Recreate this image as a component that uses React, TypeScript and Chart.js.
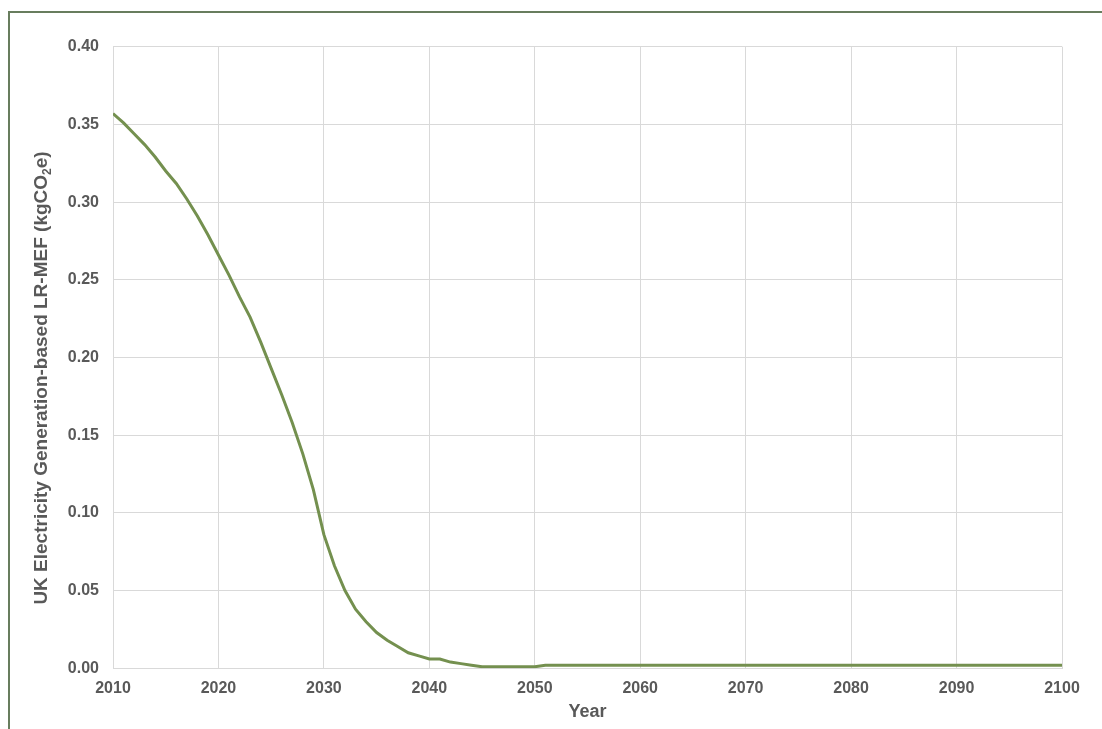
import React, { useEffect, useRef } from "react";
import { Chart, registerables } from "chart.js";

Chart.register(...registerables);

const years: number[] = [
  2010, 2011, 2012, 2013, 2014, 2015, 2016, 2017, 2018, 2019,
  2020, 2021, 2022, 2023, 2024, 2025, 2026, 2027, 2028, 2029,
  2030, 2031, 2032, 2033, 2034, 2035, 2036, 2037, 2038, 2039,
  2040, 2041, 2042, 2043, 2044, 2045, 2046, 2047, 2048, 2049,
  2050, 2051, 2052, 2053, 2054, 2055, 2056, 2057, 2058, 2059,
  2060, 2061, 2062, 2063, 2064, 2065, 2066, 2067, 2068, 2069,
  2070, 2071, 2072, 2073, 2074, 2075, 2076, 2077, 2078, 2079,
  2080, 2081, 2082, 2083, 2084, 2085, 2086, 2087, 2088, 2089,
  2090, 2091, 2092, 2093, 2094, 2095, 2096, 2097, 2098, 2099,
  2100,
];

const lrMef: number[] = [
  0.357, 0.351, 0.344, 0.337, 0.329, 0.320, 0.312, 0.302, 0.291, 0.279,
  0.266, 0.253, 0.239, 0.226, 0.210, 0.193, 0.176, 0.158, 0.138, 0.115,
  0.086, 0.066, 0.050, 0.038, 0.030, 0.023, 0.018, 0.014, 0.010, 0.008,
  0.006, 0.006, 0.004, 0.003, 0.002, 0.001, 0.001, 0.001, 0.001, 0.001,
  0.001, 0.002, 0.002, 0.002, 0.002, 0.002, 0.002, 0.002, 0.002, 0.002,
  0.002, 0.002, 0.002, 0.002, 0.002, 0.002, 0.002, 0.002, 0.002, 0.002,
  0.002, 0.002, 0.002, 0.002, 0.002, 0.002, 0.002, 0.002, 0.002, 0.002,
  0.002, 0.002, 0.002, 0.002, 0.002, 0.002, 0.002, 0.002, 0.002, 0.002,
  0.002, 0.002, 0.002, 0.002, 0.002, 0.002, 0.002, 0.002, 0.002, 0.002,
  0.002,
];

const xTitle = "Year";
// y title pieces: main text, subscript, closing text
const yTitleParts: [string, string, string] = [
  "UK Electricity Generation-based LR-MEF (kgCO",
  "2",
  "e)",
];

const FONT = "'Liberation Sans', Arial, Helvetica, sans-serif";
const TEXT = "#595959";
const GRID = "#d9d9d9";

const yTitlePlugin = {
  id: "yTitleSub",
  afterDraw(chart: any) {
    const ctx = chart.ctx as CanvasRenderingContext2D;
    const main = `bold 19px ${FONT}`;
    const sub = `bold 12px ${FONT}`;
    ctx.save();
    ctx.font = main;
    const w1 = ctx.measureText(yTitleParts[0]).width;
    const w3 = ctx.measureText(yTitleParts[2]).width;
    ctx.font = sub;
    const w2 = ctx.measureText(yTitleParts[1]).width;
    const total = w1 + w2 + w3;
    const cx = 40;
    const cy = 378;
    ctx.translate(cx, cy);
    ctx.rotate(-Math.PI / 2);
    ctx.fillStyle = TEXT;
    ctx.textBaseline = "alphabetic";
    ctx.textAlign = "left";
    let x = -total / 2;
    const base = 7;
    ctx.font = main;
    ctx.fillText(yTitleParts[0], x, base);
    x += w1;
    ctx.font = sub;
    ctx.fillText(yTitleParts[1], x, base + 4);
    x += w2;
    ctx.font = main;
    ctx.fillText(yTitleParts[2], x, base);
    ctx.restore();
  },
};

export default function App() {
  const ref = useRef<HTMLCanvasElement | null>(null);

  useEffect(() => {
    if (!ref.current) return;
    const chart = new Chart(ref.current, {
      type: "line",
      data: {
        datasets: [
          {
            label: "LR-MEF",
            data: years.map((y, i) => ({ x: y, y: lrMef[i] })),
            borderColor: "#74904f",
            backgroundColor: "#74904f",
            borderWidth: 3,
            pointRadius: 0,
            tension: 0,
            fill: false,
          },
        ],
      },
      options: {
        responsive: false,
        animation: false,
        devicePixelRatio: 1,
        layout: { padding: { left: 0, top: 46.7, right: 40, bottom: 0 } },
        plugins: { legend: { display: false }, tooltip: { enabled: false } },
        scales: {
          x: {
            type: "linear",
            min: 2010,
            max: 2100,
            afterFit: (s: any) => {
              s.height = 60.7;
            },
            ticks: {
              stepSize: 10,
              padding: 11,
              color: TEXT,
              font: { family: FONT, size: 16, weight: "bold" },
              callback: (v: any) => String(v),
              maxRotation: 0,
            },
            grid: { color: GRID, lineWidth: 1, drawTicks: false },
            border: { color: GRID, width: 1 },
            title: {
              display: true,
              text: xTitle,
              color: TEXT,
              font: { family: FONT, size: 18, weight: "bold" },
              padding: { top: 0, bottom: 6.5 },
            },
          },
          y: {
            type: "linear",
            min: 0,
            max: 0.4,
            afterFit: (s: any) => {
              s.width = 113;
            },
            ticks: {
              stepSize: 0.05,
              padding: 14,
              color: TEXT,
              font: { family: FONT, size: 16, weight: "bold" },
              callback: (v: any) => Number(v).toFixed(2),
            },
            grid: { color: GRID, lineWidth: 1, drawTicks: false },
            border: { color: GRID, width: 1 },
          },
        },
      },
      plugins: [yTitlePlugin],
    });
    return () => chart.destroy();
  }, []);

  return (
    <div
      style={{
        position: "absolute",
        left: 0,
        top: 0,
        width: 1102,
        height: 729,
        overflow: "hidden",
        background: "#ffffff",
      }}
    >
      <div
        style={{
          position: "absolute",
          left: 8,
          top: 11,
          width: 1200,
          height: 800,
          borderTop: "2px solid #687d5e",
          borderLeft: "2px solid #687d5e",
        }}
      />
      <canvas
        ref={ref}
        width={1102}
        height={729}
        style={{ position: "absolute", left: 0, top: 0, width: 1102, height: 729 }}
      />
    </div>
  );
}
